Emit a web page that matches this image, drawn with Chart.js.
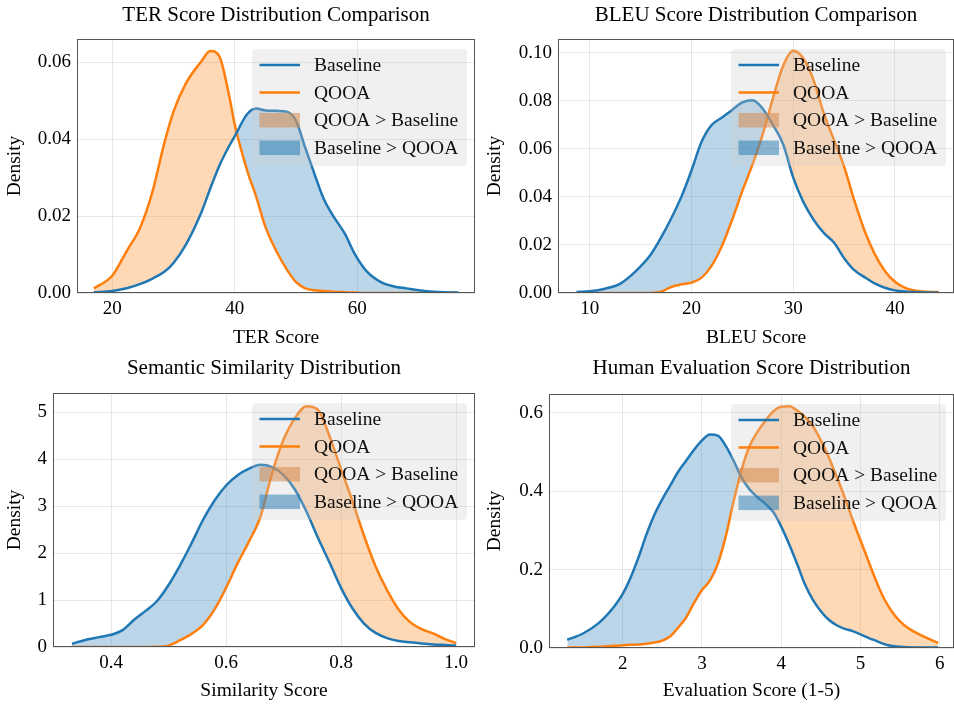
<!DOCTYPE html>
<html>
<head>
<meta charset="utf-8">
<script src="https://cdn.jsdelivr.net/npm/chart.js@4.4.1/dist/chart.umd.min.js"></script>
<style>
  html, body { margin: 0; padding: 0; background: #ffffff; }
  #wrap { position: relative; width: 954px; height: 706px; overflow: hidden; background: #fff; }
  .cell { position: absolute; width: 477px; height: 353px; }
  .cell canvas { display: block; }
</style>
</head>
<body>
<div id="wrap">
  <div class="cell" style="left:0;top:0"><canvas id="c1" width="477" height="353"></canvas></div>
  <div class="cell" style="left:477px;top:0"><canvas id="c2" width="477" height="353"></canvas></div>
  <div class="cell" style="left:0;top:353px"><canvas id="c3" width="477" height="353"></canvas></div>
  <div class="cell" style="left:477px;top:353px"><canvas id="c4" width="477" height="353"></canvas></div>
</div>
<script>
// ---------------- DATA ----------------
const SERIES_NAMES = ['Baseline', 'QOOA'];
const LEGEND_LABELS = ['Baseline', 'QOOA', 'QOOA > Baseline', 'Baseline > QOOA'];

const TITLES = ['TER Score Distribution Comparison', 'BLEU Score Distribution Comparison',
                'Semantic Similarity Distribution', 'Human Evaluation Score Distribution'];
const X_TITLES = ['TER Score', 'BLEU Score', 'Similarity Score', 'Evaluation Score (1-5)'];
const Y_TITLE = 'Density';

// TER
const TER_X    = [17,20,22.5,24.5,26.5,28.5,30,32,34.5,36,37.5,39,40,42,43.5,45,47,48.5,50,51.5,53,54.5,56,58,59.5,61.5,64,66,68,70,72.5,76.5];
const TER_BASE = [0.0002,0.0005,0.0013,0.0023,0.0037,0.0055,0.0078,0.0125,0.0208,0.0272,0.0332,0.038,0.0408,0.0465,0.048,0.0475,0.0474,0.0472,0.0448,0.0378,0.031,0.0245,0.0202,0.0153,0.0104,0.0057,0.0027,0.0017,0.0012,0.0007,0.0003,0.0001];
const TER_QOOA = [0.0012,0.0045,0.0113,0.0168,0.026,0.039,0.0472,0.0545,0.0602,0.063,0.0615,0.052,0.0438,0.032,0.025,0.0172,0.0102,0.0061,0.0028,0.0012,0.0007,0.0005,0.0003,0.0002,0.0001,0,0,0,0,0,0,0];

// BLEU
const BLEU_X    = [8.7,10,11.5,13,14.5,16,17,18,19,20,21,22,23,24,25,26,27,28,29,30,31,32,33,34,35,36,37,38,39,40,41,42.5,44.3];
const BLEU_BASE = [0.0004,0.0007,0.0018,0.0039,0.009,0.016,0.023,0.031,0.040,0.051,0.063,0.070,0.073,0.0762,0.0793,0.0802,0.0767,0.070,0.062,0.048,0.0378,0.0305,0.025,0.021,0.0145,0.0095,0.0066,0.004,0.0022,0.0011,0.0006,0.0003,0.0001];
const BLEU_QOOA = [0,0,0,0,0,0,0.0005,0.0025,0.0036,0.0043,0.0064,0.0115,0.0197,0.0305,0.0425,0.0535,0.066,0.081,0.0945,0.1008,0.0976,0.0886,0.0748,0.0637,0.0526,0.0385,0.026,0.0163,0.0092,0.0047,0.0021,0.0007,0.0004];

// Semantic similarity
const SIM_X    = [0.332,0.36,0.38,0.40,0.42,0.44,0.46,0.48,0.50,0.52,0.54,0.56,0.58,0.60,0.62,0.64,0.66,0.68,0.70,0.72,0.74,0.76,0.78,0.80,0.82,0.84,0.86,0.88,0.90,0.92,0.94,0.96,0.98,1.0];
const SIM_BASE = [0.07,0.165,0.21,0.26,0.36,0.58,0.77,0.98,1.32,1.74,2.21,2.71,3.12,3.44,3.66,3.80,3.88,3.83,3.66,3.35,2.88,2.32,1.80,1.26,0.82,0.50,0.30,0.19,0.13,0.10,0.075,0.055,0.042,0.03];
const SIM_QOOA = [0,0,0,0,0,0,0,0.003,0.03,0.145,0.28,0.47,0.80,1.26,1.78,2.25,2.78,3.70,4.42,4.88,5.13,5.05,4.49,3.79,3.10,2.37,1.72,1.21,0.80,0.53,0.38,0.29,0.175,0.085];

// Human evaluation
const HUM_X    = [1.3,1.5,1.7,1.9,2.0,2.1,2.2,2.3,2.4,2.5,2.6,2.7,2.8,2.9,3.0,3.1,3.2,3.3,3.4,3.5,3.6,3.7,3.8,3.9,4.0,4.1,4.2,4.3,4.4,4.5,4.6,4.7,4.8,4.9,5.0,5.1,5.2,5.3,5.4,5.5,5.6,5.8,5.98];
const HUM_BASE = [0.021,0.037,0.064,0.108,0.138,0.18,0.232,0.29,0.34,0.38,0.415,0.45,0.478,0.506,0.53,0.545,0.542,0.516,0.478,0.435,0.405,0.385,0.368,0.347,0.31,0.265,0.215,0.162,0.123,0.094,0.072,0.058,0.049,0.043,0.035,0.026,0.018,0.010,0.005,0.003,0.002,0.001,0.001];
const HUM_QOOA = [0.001,0.0015,0.003,0.006,0.007,0.008,0.009,0.011,0.014,0.019,0.030,0.052,0.078,0.115,0.148,0.172,0.215,0.285,0.375,0.455,0.515,0.552,0.58,0.604,0.616,0.617,0.606,0.59,0.566,0.53,0.487,0.437,0.385,0.328,0.275,0.222,0.170,0.125,0.092,0.068,0.051,0.029,0.013];

// Axis ranges and ticks
const X_RANGES = [[14.25, 79.2], [6.88, 45.8], [0.299, 1.033], [1.07, 6.18]];
const Y_MAXES  = [0.0661, 0.1057, 5.41, 0.6485];
const X_STEPS  = [20, 10, 0.2, 1];
const Y_STEPS  = [0.02, 0.02, 1, 0.2];
const X_DEC    = [0, 0, 1, 0];
const Y_DEC    = [2, 2, 0, 1];

// ---------------- STYLE ----------------
const SERIF = '"Liberation Serif", "Times New Roman", serif';
const BLUE = '#1f77b4';
const ORANGE = '#ff7f0e';
const BLUE_FILL = 'rgba(31,119,180,0.3)';
const ORANGE_FILL = 'rgba(255,127,14,0.3)';
const GRID = 'rgba(176,176,176,0.3)';
const CW = 477, CH = 353;
// chart-area frame inside each canvas: [left, right, top, bottom]
const AREAS = [[77, 475, 39, 293], [81, 477, 39, 293], [53, 475, 40, 294], [72, 477, 41, 295]];
const YTITLE_PAD = [3.3, 6.3, 3.3, 6.3];

const framePlugin = {
  id: 'frameAndLegend',
  afterDraw(chart) {
    const ctx = chart.ctx;
    const a = chart.chartArea;
    ctx.save();
    // spines
    ctx.strokeStyle = '#555555';
    ctx.lineWidth = 1;
    const l = Math.round(a.left) + 0.5, r = Math.round(a.right) - 0.5;
    const t = Math.round(a.top) + 0.5, b = Math.round(a.bottom) - 0.5;
    ctx.strokeRect(l, t, r - l, b - t);

    // legend
    const W = 215, H = 117;
    const lx = Math.round(a.right - 8.5 - W), ly = Math.round(a.top + 9.5);
    ctx.beginPath();
    if (ctx.roundRect) ctx.roundRect(lx, ly, W, H, 4); else ctx.rect(lx, ly, W, H);
    ctx.fillStyle = 'rgba(200,200,200,0.28)';
    ctx.fill();
    ctx.font = '19.5px ' + SERIF;
    ctx.textBaseline = 'middle';
    ctx.textAlign = 'left';
    for (let i = 0; i < LEGEND_LABELS.length; i++) {
      const cy = ly + 16 + i * 27.6;
      const hx = lx + 7.5, hw = 40.5;
      if (i < 2) {
        ctx.strokeStyle = i === 0 ? BLUE : ORANGE;
        ctx.lineWidth = 2.5;
        ctx.beginPath();
        ctx.moveTo(hx, cy); ctx.lineTo(hx + hw, cy);
        ctx.stroke();
      } else {
        ctx.fillStyle = i === 2 ? 'rgba(214,140,80,0.55)' : 'rgba(31,119,180,0.5)';
        ctx.fillRect(hx, cy - 7.25, hw, 14.5);
      }
      ctx.fillStyle = '#111111';
      ctx.fillText(LEGEND_LABELS[i], lx + 62, cy + 1);
    }
    ctx.restore();
  }
};

function fmt(v, d) { return Number(v).toFixed(d); }

function makeChart(idx, xs, base, qooa) {
  const [left, right, top, bottom] = AREAS[idx];
  const titleSize = 21;
  const titleH = titleSize * 1.2;
  const tickFont = { family: SERIF, size: 19 };
  const axFont = { family: SERIF, size: 19.5 };
  return new Chart(document.getElementById('c' + (idx + 1)), {
    type: 'line',
    data: {
      datasets: [
        {
          label: SERIES_NAMES[0],
          data: xs.map((x, i) => ({ x: x, y: base[i] })),
          borderColor: BLUE, borderWidth: 2.5, pointRadius: 0,
          cubicInterpolationMode: 'monotone',
          fill: { target: 1, above: BLUE_FILL, below: ORANGE_FILL }
        },
        {
          label: SERIES_NAMES[1],
          data: xs.map((x, i) => ({ x: x, y: qooa[i] })),
          borderColor: ORANGE, borderWidth: 2.5, pointRadius: 0,
          cubicInterpolationMode: 'monotone',
          fill: false
        }
      ]
    },
    options: {
      responsive: false,
      animation: false,
      events: [],
      layout: { padding: { left: 0, right: CW - right, top: 0, bottom: 0 } },
      plugins: {
        legend: { display: false },
        tooltip: { enabled: false },
        filler: { drawTime: 'beforeDatasetsDraw' },
        title: {
          display: true, text: TITLES[idx], fullSize: false, color: '#000',
          font: { family: SERIF, size: titleSize, weight: 'normal' },
          padding: { top: 2.5, bottom: top - 2.5 - titleH }
        }
      },
      scales: {
        x: {
          type: 'linear', min: X_RANGES[idx][0], max: X_RANGES[idx][1],
          afterFit: s => { s.height = CH - bottom; },
          grid: { color: GRID, drawTicks: false, lineWidth: 1 },
          border: { display: false },
          ticks: {
            stepSize: X_STEPS[idx], includeBounds: false, padding: 5, color: '#000',
            font: tickFont, maxRotation: 0,
            callback: v => fmt(v, X_DEC[idx])
          },
          title: { display: true, text: X_TITLES[idx], color: '#000', font: axFont, padding: { top: 0, bottom: 3 } }
        },
        y: {
          type: 'linear', min: 0, max: Y_MAXES[idx],
          afterFit: s => { s.width = left; },
          grid: { color: GRID, drawTicks: false, lineWidth: 1 },
          border: { display: false },
          ticks: {
            stepSize: Y_STEPS[idx], includeBounds: false, padding: 6, color: '#000',
            font: tickFont,
            callback: v => fmt(v, Y_DEC[idx])
          },
          title: { display: true, text: Y_TITLE, color: '#000', font: axFont, padding: { top: YTITLE_PAD[idx], bottom: 0 } }
        }
      }
    },
    plugins: [framePlugin]
  });
}

function drawAll() {
  makeChart(0, TER_X, TER_BASE, TER_QOOA);
  makeChart(1, BLEU_X, BLEU_BASE, BLEU_QOOA);
  makeChart(2, SIM_X, SIM_BASE, SIM_QOOA);
  makeChart(3, HUM_X, HUM_BASE, HUM_QOOA);
}

let done = false;
function go() { if (!done) { done = true; drawAll(); } }
if (document.fonts && document.fonts.load) {
  Promise.all([document.fonts.load('19px "Liberation Serif"')]).then(go, go);
  setTimeout(go, 800);
} else { go(); }
</script>
</body>
</html>
